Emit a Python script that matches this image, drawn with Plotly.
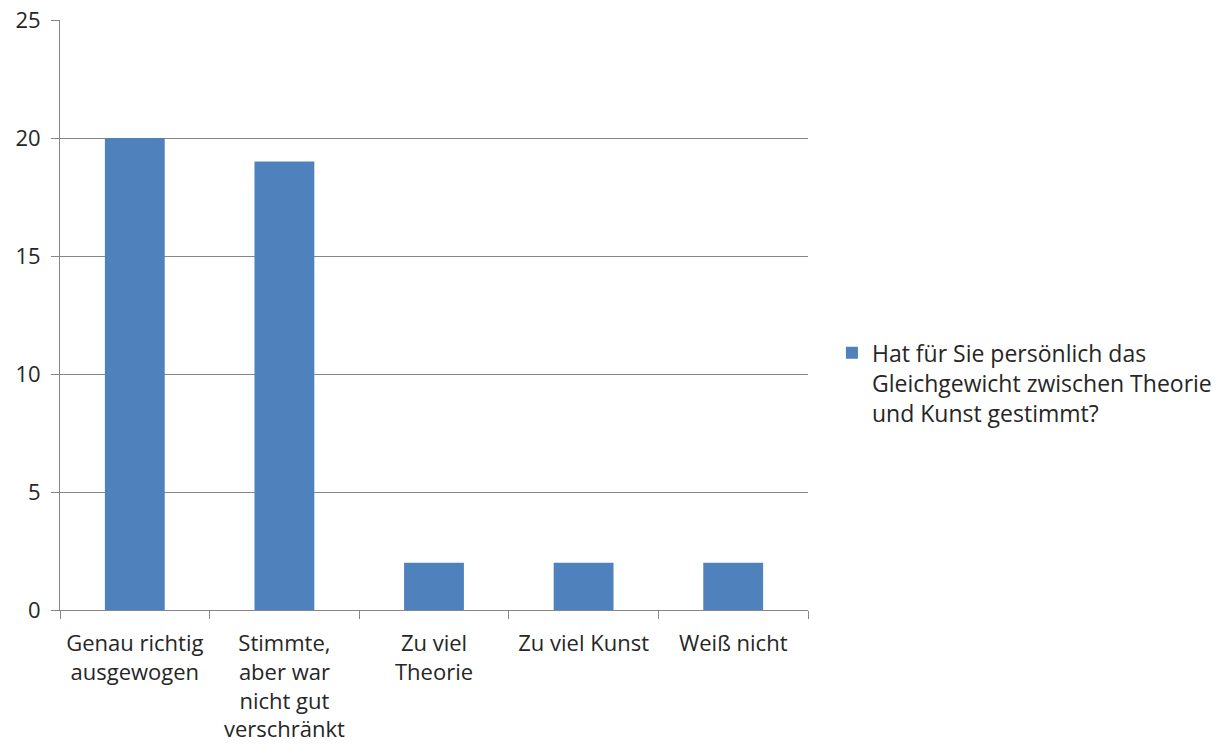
import plotly.graph_objects as go

categories = ["Genau richtig<br>ausgewogen", "Stimmte,<br>aber war<br>nicht gut<br>verschränkt",
              "Zu viel<br>Theorie", "Zu viel Kunst", "Weiß nicht"]
values = [20, 19, 2, 2, 2]
series_name = "Hat für Sie persönlich das<br>Gleichgewicht zwischen Theorie<br>und Kunst gestimmt?"
y_ticks = [0, 5, 10, 15, 20, 25]

FONT = "Open Sans"
TXT = "#262626"
GRID = "#868686"

fig = go.Figure()
fig.add_trace(go.Bar(x=categories, y=values, name=series_name,
                     marker=dict(color="#4F81BD", line=dict(width=0)),
                     width=0.4, showlegend=True))

fig.update_layout(
    width=1226, height=754,
    margin=dict(l=60, r=418, t=20, b=144, autoexpand=False),
    paper_bgcolor="white", plot_bgcolor="white",
    font=dict(family=FONT, size=23, color=TXT),
    legend=dict(x=1.032, y=0.385, xanchor="left", yanchor="middle",
                valign="top", font=dict(family=FONT, size=23, color=TXT),
                itemwidth=30, tracegroupgap=0),
    bargap=0.6,
)
fig.update_xaxes(showline=True, linecolor=GRID, linewidth=1, automargin=False,
                 ticks="outside", tickson="boundaries", ticklen=8, tickcolor=GRID,
                 ticklabelstandoff=14, tickangle=0,
                 showgrid=False, tickfont=dict(family=FONT, size=22, color=TXT))
fig.update_yaxes(range=[0, 25], tickvals=y_ticks, showline=True, linecolor=GRID, linewidth=1,
                 automargin=False, ticks="outside", ticklen=8, tickcolor=GRID,
                 ticklabelstandoff=6,
                 showgrid=True, gridcolor=GRID, gridwidth=1, zeroline=False,
                 tickfont=dict(family=FONT, size=22, color=TXT))

fig.write_html("out.html")
